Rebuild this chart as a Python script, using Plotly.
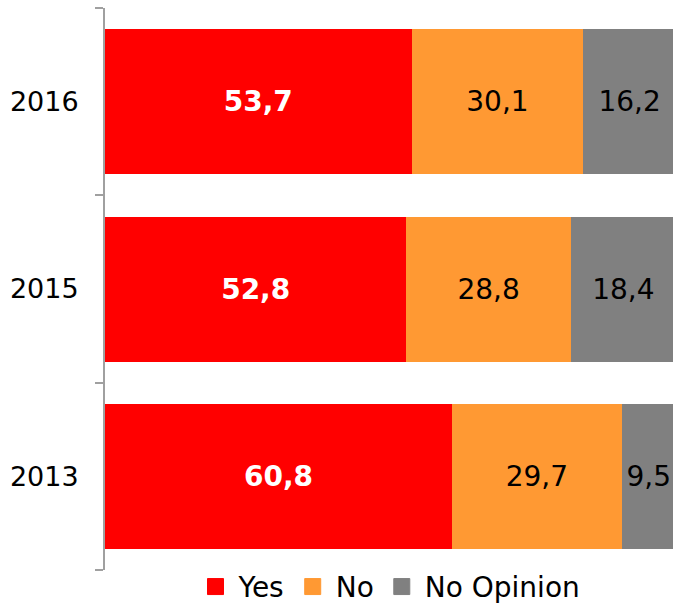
import plotly.graph_objects as go

years = ["2013", "2015", "2016"]
yes_vals = [60.8, 52.8, 53.7]
no_vals = [29.7, 28.8, 30.1]
noop_vals = [9.5, 18.4, 16.2]
series_names = ["Yes", "No", "No Opinion"]
colors = ["#FF0000", "#FF9933", "#808080"]

FONT = "DejaVu Sans"
fig = go.Figure()
series_vals = [yes_vals, no_vals, noop_vals]
for i, (name, vals, col) in enumerate(zip(series_names, series_vals, colors)):
    fig.add_trace(go.Bar(
        y=years, x=vals, orientation="h", name=name,
        marker=dict(color=col, line=dict(width=0)),
        texttemplate="%{x:.1f}", textposition="inside",
        insidetextanchor="middle", constraintext="none",
        textfont=dict(family=FONT, size=28,
                      color="white" if i == 0 else "black",
                      weight="bold" if i == 0 else "normal"),
        showlegend=False,
    ))
for name, col in zip(series_names, colors):
    fig.add_trace(go.Scatter(
        x=[None], y=[None], mode="markers", name=name,
        marker=dict(symbol="square", size=16, color=col,
                    line=dict(color=col, width=1)),
        showlegend=True,
    ))

fig.update_layout(
    width=673, height=603,
    barmode="stack", bargap=0.226,
    separators=", ",
    margin=dict(l=105, r=0, t=8, b=33, autoexpand=False),
    plot_bgcolor="white", paper_bgcolor="white",
    font=dict(family=FONT, size=27, color="black"),
    xaxis=dict(range=[0, 99.5], visible=False, showgrid=False, zeroline=False),
    yaxis=dict(
        showline=True, linecolor="#A0A0A0", linewidth=2,
        ticks="outside", ticklen=8, tickcolor="#A0A0A0", tickwidth=2,
        tickson="boundaries", showgrid=False, zeroline=False,
        tickfont=dict(family=FONT, size=27, color="black"),
        ticklabelstandoff=19, automargin=False,
    ),
    legend=dict(
        orientation="h", x=0.5, xanchor="center", y=-0.03, yanchor="middle",
        font=dict(family=FONT, size=28, color="black"),
        itemsizing="trace", itemwidth=36, traceorder="normal",
        bgcolor="rgba(0,0,0,0)",
    ),
)
fig.write_html("out.html", config={"displayModeBar": False},
               post_script="document.body.style.margin='0';document.body.style.overflow='hidden';")
